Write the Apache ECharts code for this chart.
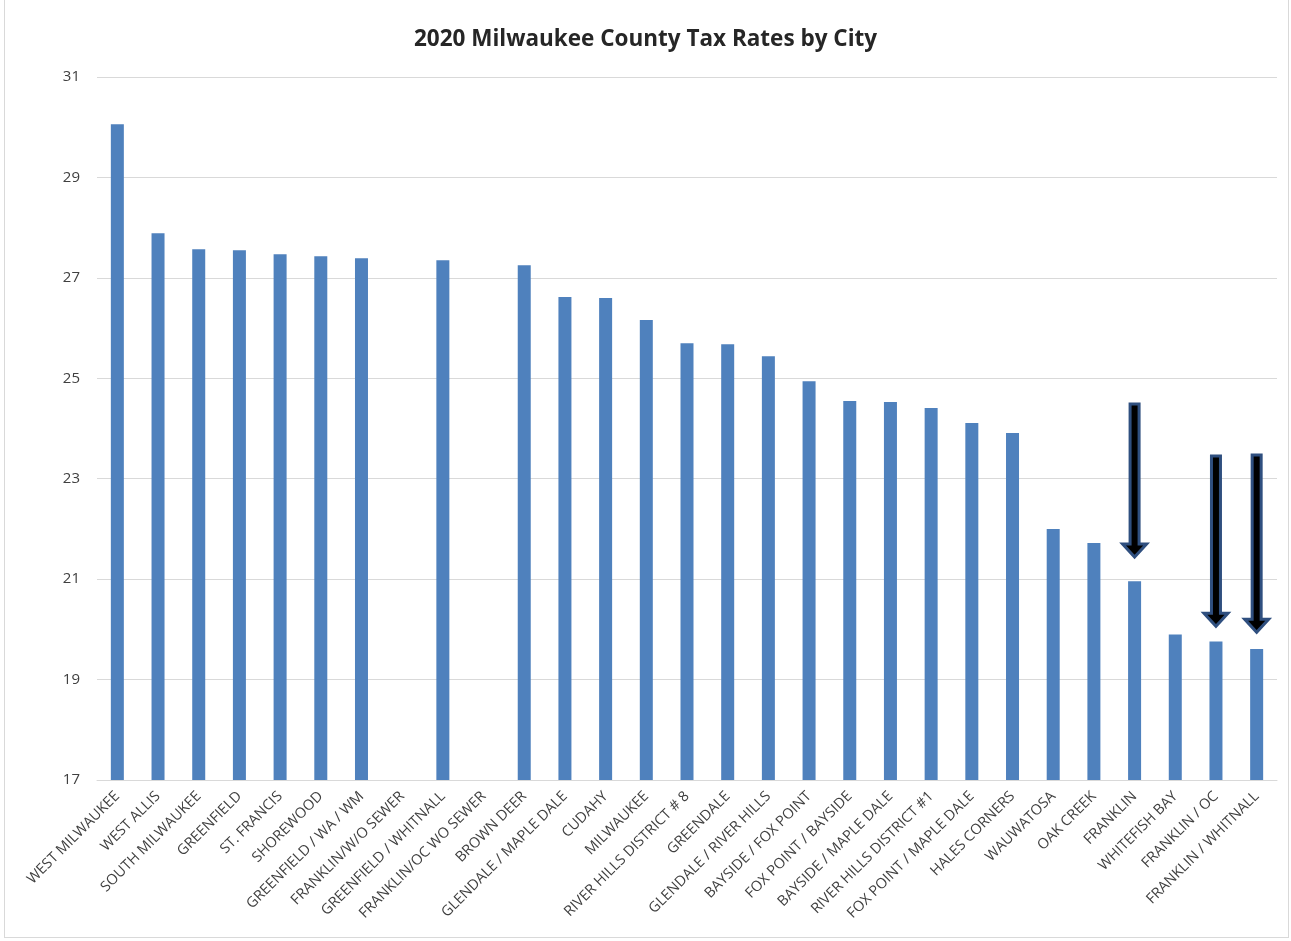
<!DOCTYPE html>
<html>
<head>
<meta charset="utf-8">
<script src="https://cdn.jsdelivr.net/npm/echarts@6/dist/echarts.min.js"></script>
<style>
  html, body { margin: 0; padding: 0; background: #fff; }
  #wrap { position: absolute; left: 4px; top: 0; width: 1285px; height: 938px; border-left: 1px solid #d9d9d9; border-bottom: 1px solid #d9d9d9; border-right: 1px solid #d9d9d9; box-sizing: border-box; }
  #chart { position: absolute; left: 0; top: 0; width: 1291px; height: 941px; }
</style>
</head>
<body>
<div id="wrap"></div>
<div id="chart"></div>
<script>
const categories = [
  "WEST MILWAUKEE", "WEST ALLIS", "SOUTH MILWAUKEE", "GREENFIELD", "ST. FRANCIS",
  "SHOREWOOD", "GREENFIELD / WA / WM", "FRANKLIN/W/O SEWER", "GREENFIELD / WHITNALL",
  "FRANKLIN/OC WO SEWER", "BROWN DEER", "GLENDALE / MAPLE DALE", "CUDAHY", "MILWAUKEE",
  "RIVER HILLS DISTRICT # 8", "GREENDALE", "GLENDALE / RIVER HILLS", "BAYSIDE / FOX POINT",
  "FOX POINT / BAYSIDE", "BAYSIDE / MAPLE DALE", "RIVER HILLS DISTRICT #1",
  "FOX POINT / MAPLE DALE", "HALES CORNERS", "WAUWATOSA", "OAK CREEK", "FRANKLIN",
  "WHITEFISH BAY", "FRANKLIN / OC", "FRANKLIN / WHITNALL"
];
const taxRates = [
  30.06, 27.89, 27.57, 27.55, 27.47,
  27.43, 27.39, null, 27.35,
  null, 27.25, 26.62, 26.60, 26.16,
  25.70, 25.68, 25.44, 24.94,
  24.55, 24.53, 24.41,
  24.11, 23.91, 22.00, 21.72, 20.96,
  19.90, 19.76, 19.61
];
const arrowCities = ["FRANKLIN", "FRANKLIN / OC", "FRANKLIN / WHITNALL"];
const arrowFrom = [24.49, 23.45, 23.47];
const arrowTo = [21.44, 20.06, 19.94];
const yTicks = [17, 19, 21, 23, 25, 27, 29, 31];

const arrowData = arrowCities.map((c, i) => [categories.indexOf(c), arrowFrom[i], arrowTo[i]]);

const chart = echarts.init(document.getElementById('chart'));
chart.setOption({
  animation: false,
  backgroundColor: 'transparent',
  title: {
    text: '2020 Milwaukee County Tax Rates by City',
    left: 'center',
    top: 23,
    textStyle: { fontFamily: 'Open Sans', fontSize: 22.5, fontWeight: 'bold', color: '#262626' }
  },
  grid: { left: 97, right: 14, top: 77, bottom: 161, containLabel: false },
  xAxis: {
    type: 'category',
    data: categories,
    axisLine: { show: true, lineStyle: { color: '#d9d9d9', width: 1 } },
    axisTick: { show: false },
    axisLabel: {
      interval: 0,
      rotate: 45,
      fontFamily: 'Open Sans',
      fontSize: 14.5,
      color: '#404040',
      margin: 14
    }
  },
  yAxis: {
    type: 'value',
    min: yTicks[0],
    max: yTicks[yTicks.length - 1],
    interval: 2,
    axisLine: { show: false },
    axisTick: { show: false },
    axisLabel: { fontFamily: 'Open Sans', fontSize: 15, color: '#404040', margin: 17 },
    splitLine: { lineStyle: { color: '#d9d9d9', width: 1 } }
  },
  series: [
    {
      type: 'bar',
      data: taxRates,
      barWidth: 13,
      itemStyle: { color: '#4f81bd' }
    },
    {
      type: 'custom',
      data: arrowData,
      z: 10,
      renderItem: function (params, api) {
        const idx = api.value(0);
        const p0 = api.coord([idx, api.value(1)]);
        const p1 = api.coord([idx, api.value(2)]);
        const x = p0[0];
        const y0 = p0[1];
        const yt = p1[1];
        const sw = 4.5, hw = 12, hh = 13;
        return {
          type: 'polygon',
          shape: {
            points: [
              [x - sw, y0], [x + sw, y0], [x + sw, yt - hh], [x + hw, yt - hh],
              [x, yt], [x - hw, yt - hh], [x - sw, yt - hh]
            ]
          },
          style: { fill: '#000000', stroke: '#2f4f7f', lineWidth: 3 }
        };
      }
    }
  ]
});
</script>
</body>
</html>
